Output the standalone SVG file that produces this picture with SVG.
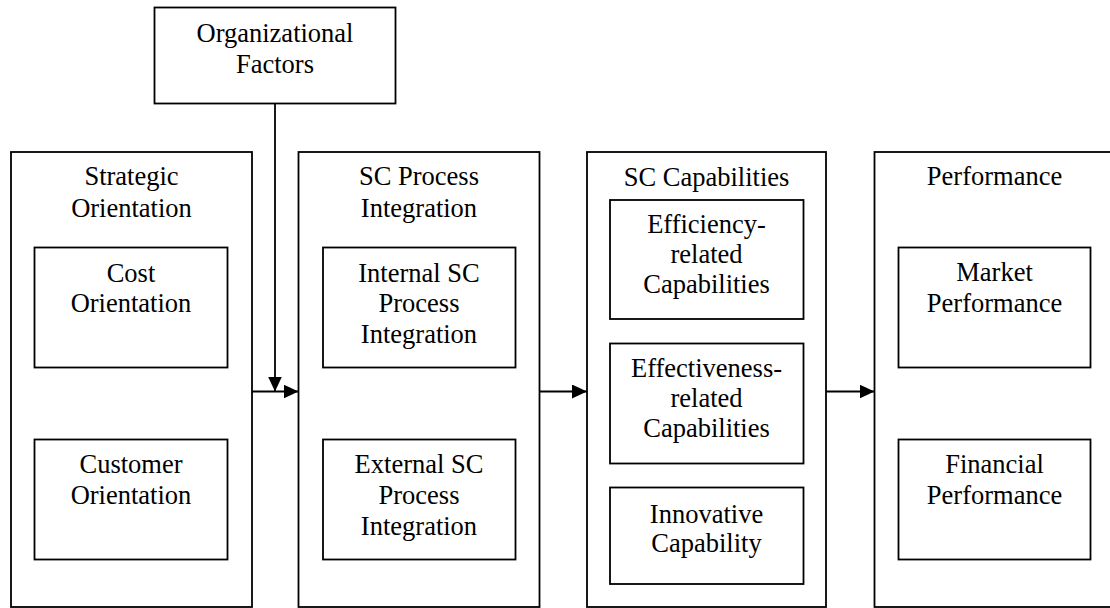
<svg xmlns="http://www.w3.org/2000/svg" width="1110" height="608" viewBox="0 0 1110 608">
<style>
rect{fill:#fff;stroke:#000;stroke-width:1.8}
text{font-family:"Liberation Serif","Times New Roman",serif;font-size:26.5px;fill:#000;text-anchor:middle}
.c line{stroke:#000;stroke-width:1.8}
</style>
<defs>
<marker id="ah" markerUnits="userSpaceOnUse" markerWidth="16" markerHeight="14" refX="15" refY="7" orient="auto">
<path d="M0,0 L15,7 L0,14 z" fill="#000"/>
</marker>
</defs>
<rect width="1110" height="608" style="fill:#fff;stroke:none"/>
<g id="organizational-factors">
<rect x="154.5" y="7.5" width="241" height="96"/>
<text x="275" y="41.7">Organizational</text>
<text x="275" y="72.7">Factors</text>
</g>
<g id="strategic-orientation">
<rect x="11" y="152" width="241" height="455"/>
<text x="131.5" y="185">Strategic</text>
<text x="131.5" y="216.5">Orientation</text>
</g>
<g id="cost-orientation">
<rect x="34.5" y="247.5" width="193" height="120"/>
<text x="131" y="281.7">Cost</text>
<text x="131" y="312">Orientation</text>
</g>
<g id="customer-orientation">
<rect x="34.5" y="439.5" width="193" height="120"/>
<text x="131" y="473.3">Customer</text>
<text x="131" y="504">Orientation</text>
</g>
<g id="sc-process-integration">
<rect x="298.5" y="152" width="241" height="455"/>
<text x="419" y="185">SC Process</text>
<text x="419" y="216.5">Integration</text>
</g>
<g id="internal-sc">
<rect x="323" y="247.5" width="192.5" height="120"/>
<text x="419" y="281.7">Internal SC</text>
<text x="419" y="312.3">Process</text>
<text x="419" y="343">Integration</text>
</g>
<g id="external-sc">
<rect x="323" y="439.5" width="192.5" height="120"/>
<text x="419" y="473.3">External SC</text>
<text x="419" y="504">Process</text>
<text x="419" y="535">Integration</text>
</g>
<g id="sc-capabilities">
<rect x="587" y="152" width="239" height="455"/>
<text x="706.5" y="186">SC Capabilities</text>
</g>
<g id="efficiency">
<rect x="610" y="200" width="193.5" height="119"/>
<text x="706.5" y="232.5">Efficiency-</text>
<text x="706.5" y="262.5">related</text>
<text x="706.5" y="292.5">Capabilities</text>
</g>
<g id="effectiveness">
<rect x="610" y="343.5" width="193.5" height="120"/>
<text x="706.5" y="376.5">Effectiveness-</text>
<text x="706.5" y="406.5">related</text>
<text x="706.5" y="436.5">Capabilities</text>
</g>
<g id="innovative">
<rect x="610" y="487.5" width="193.5" height="96.5"/>
<text x="706.5" y="522.5">Innovative</text>
<text x="706.5" y="552">Capability</text>
</g>
<g id="performance">
<rect x="874.5" y="152" width="240" height="455"/>
<text x="994.5" y="185">Performance</text>
</g>
<g id="market-performance">
<rect x="898.5" y="247.5" width="192" height="120"/>
<text x="994.5" y="280.7">Market</text>
<text x="994.5" y="311.7">Performance</text>
</g>
<g id="financial-performance">
<rect x="898.5" y="439.5" width="192" height="120"/>
<text x="994.5" y="473.3">Financial</text>
<text x="994.5" y="504">Performance</text>
</g>
<g id="connectors" class="c">
<line x1="275" y1="103.5" x2="275" y2="391.5" marker-end="url(#ah)"/>
<line x1="252" y1="391.5" x2="298.5" y2="391.5" marker-end="url(#ah)"/>
<line x1="539.5" y1="391.5" x2="587" y2="391.5" marker-end="url(#ah)"/>
<line x1="826" y1="391.5" x2="874.5" y2="391.5" marker-end="url(#ah)"/>
</g>
</svg>
